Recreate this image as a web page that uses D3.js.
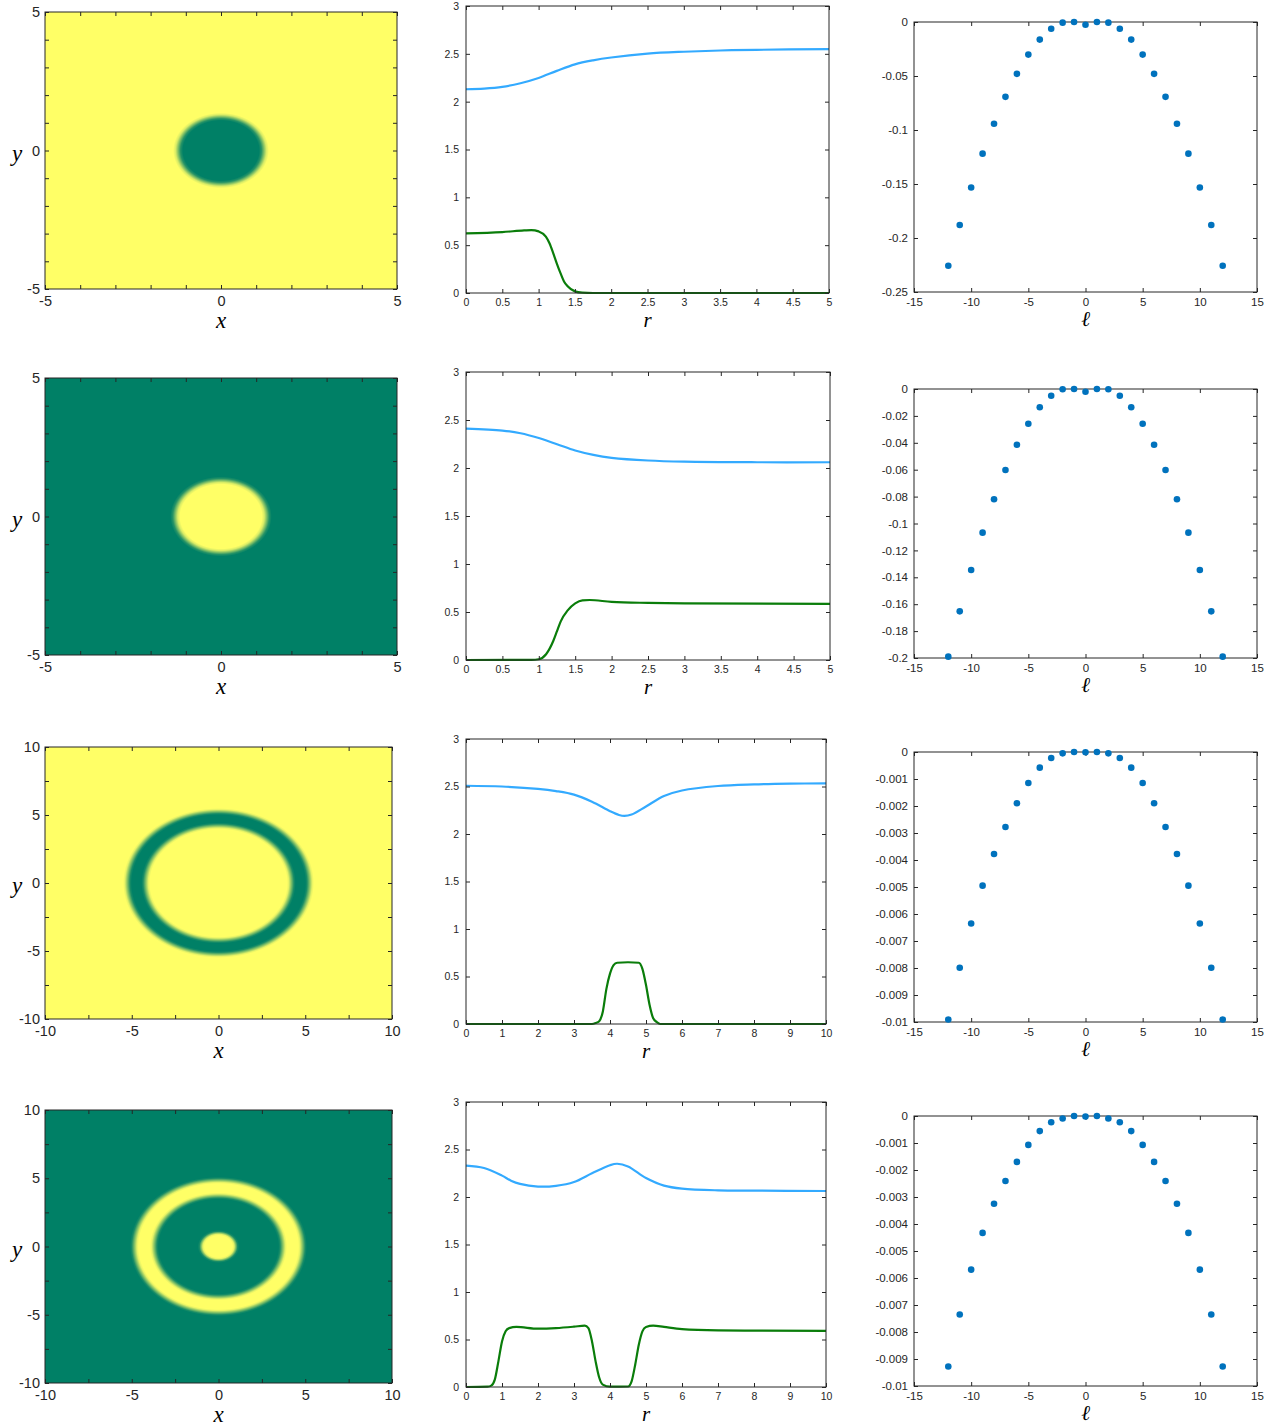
<!DOCTYPE html>
<html>
<head>
<meta charset="utf-8">
<script src="https://cdn.jsdelivr.net/npm/d3@7"></script>
<style>
  body { margin: 0; background: #fff; }
</style>
</head>
<body>
<script>
// ---- column 1: radial phase profile (0 = yellow, 1 = teal)
const heatR1 = [0, 1.08, 1.15, 1.22, 1.29, 1.36, 15];
const heatV1 = [1, 1, 0.85, 0.5, 0.15, 0, 0];
const heatR2 = [0, 1.16, 1.23, 1.3, 1.37, 1.44, 15];
const heatV2 = [0, 0, 0.15, 0.5, 0.85, 1, 1];
const heatR3 = [0, 3.95, 4.05, 4.2, 4.35, 4.45, 5.0, 5.1, 5.25, 5.4, 5.5, 15];
const heatV3 = [0, 0, 0.1, 0.5, 0.9, 1, 1, 0.9, 0.5, 0.1, 0, 0];
const heatR4 = [0, 0.8, 0.9, 1.0, 1.1, 1.2, 3.45, 3.55, 3.7, 3.85, 3.95, 4.6, 4.7, 4.85, 5.0, 5.1, 15];
const heatV4 = [0, 0, 0.1, 0.5, 0.9, 1, 1, 0.9, 0.5, 0.1, 0, 0, 0.1, 0.5, 0.9, 1, 1];

const heatTicksA = [-5, -4, -3, -2, -1, 0, 1, 2, 3, 4, 5];
const heatLabelsA = [-5, 0, 5];
const heatTicksB = [-10, -7.5, -5, -2.5, 0, 2.5, 5, 7.5, 10];
const heatLabelsB = [-10, -5, 0, 5, 10];

// ---- column 2: radial profiles (blue and green curves)
const rBlue1 = [0, 0.25, 0.5, 0.75, 1, 1.25, 1.5, 1.75, 2, 2.5, 3, 3.5, 4, 5];
const blue1 = [2.13, 2.137, 2.155, 2.193, 2.248, 2.322, 2.39, 2.432, 2.462, 2.502, 2.522, 2.535, 2.542, 2.55];
const rGreen1 = [0, 0.5, 0.8, 0.9, 1.0, 1.1, 1.15, 1.2, 1.25, 1.3, 1.35, 1.4, 1.5, 1.6, 1.75, 5];
const green1 = [0.623, 0.637, 0.654, 0.658, 0.644, 0.59, 0.52, 0.42, 0.31, 0.21, 0.12, 0.07, 0.017, 0.003, 0, 0];

const rBlue2 = [0, 0.5, 0.75, 1, 1.25, 1.5, 1.75, 2, 2.5, 3, 4, 5];
const blue2 = [2.41, 2.39, 2.362, 2.312, 2.248, 2.182, 2.136, 2.106, 2.078, 2.066, 2.06, 2.06];
const rGreen2 = [0, 0.9, 1.0, 1.1, 1.2, 1.25, 1.3, 1.4, 1.5, 1.6, 1.7, 2, 2.5, 3, 5];
const green2 = [0, 0.001, 0.008, 0.06, 0.2, 0.3, 0.4, 0.52, 0.59, 0.622, 0.625, 0.605, 0.595, 0.59, 0.585];

const rBlue3 = [0, 1, 2, 2.5, 3, 3.5, 4, 4.25, 4.4, 4.6, 5, 5.5, 6, 7, 8, 9, 10];
const blue3 = [2.508, 2.50, 2.475, 2.452, 2.415, 2.34, 2.24, 2.2, 2.19, 2.205, 2.29, 2.4, 2.458, 2.505, 2.522, 2.53, 2.533];
const rGreen3 = [0, 3.5, 3.6, 3.7, 3.8, 3.9, 4.0, 4.1, 4.2, 4.5, 4.8, 4.9, 5.0, 5.1, 5.2, 5.3, 5.4, 10];
const green3 = [0, 0, 0.01, 0.03, 0.13, 0.37, 0.53, 0.62, 0.645, 0.65, 0.645, 0.58, 0.41, 0.2, 0.06, 0.02, 0, 0];

const rBlue4 = [0, 0.5, 1, 1.25, 1.5, 2, 2.5, 3, 3.5, 4, 4.2, 4.5, 5, 5.5, 6, 7, 8, 10];
const blue4 = [2.33, 2.305, 2.225, 2.172, 2.138, 2.11, 2.118, 2.158, 2.25, 2.335, 2.35, 2.322, 2.2, 2.12, 2.088, 2.07, 2.067, 2.063];
const rGreen4 = [0, 0.6, 0.7, 0.8, 0.9, 1.0, 1.1, 1.2, 1.4, 2, 2.5, 3, 3.3, 3.4, 3.5, 3.6, 3.7, 3.8, 4.0, 4.5, 4.6, 4.7, 4.8, 4.9, 5.0, 5.2, 5.5, 6, 7, 8, 10];
const green4 = [0, 0.003, 0.014, 0.077, 0.27, 0.48, 0.586, 0.62, 0.632, 0.614, 0.62, 0.635, 0.646, 0.62, 0.48, 0.27, 0.1, 0.025, 0.003, 0.005, 0.06, 0.235, 0.445, 0.586, 0.632, 0.646, 0.632, 0.61, 0.596, 0.593, 0.59];

const profTicksY = [0, 0.5, 1, 1.5, 2, 2.5, 3];
const profTicksXA = [0, 0.5, 1, 1.5, 2, 2.5, 3, 3.5, 4, 4.5, 5];
const profTicksXB = [0, 1, 2, 3, 4, 5, 6, 7, 8, 9, 10];

// ---- column 3: eigenvalues per mode number ell
const ell = [-12, -11, -10, -9, -8, -7, -6, -5, -4, -3, -2, -1, 0, 1, 2, 3, 4, 5, 6, 7, 8, 9, 10, 11, 12];
const eig1 = [-0.2257, -0.188, -0.1533, -0.1219, -0.0942, -0.0693, -0.048, -0.0302, -0.0163, -0.0062, -0.0006, 0, -0.0025, 0, -0.0006, -0.0062, -0.0163, -0.0302, -0.048, -0.0693, -0.0942, -0.1219, -0.1533, -0.188, -0.2257];
const eig2 = [-0.199, -0.1653, -0.1346, -0.1068, -0.082, -0.0602, -0.0414, -0.0258, -0.0136, -0.005, -0.0002, 0, -0.002, 0, -0.0002, -0.005, -0.0136, -0.0258, -0.0414, -0.0602, -0.082, -0.1068, -0.1346, -0.1653, -0.199];
const eig3 = [-0.00991, -0.00799, -0.00635, -0.00495, -0.00378, -0.00278, -0.0019, -0.00115, -0.00058, -0.00022, -0.00005, 0, -0.00001, 0, -0.00005, -0.00022, -0.00058, -0.00115, -0.0019, -0.00278, -0.00378, -0.00495, -0.00635, -0.00799, -0.00991];
const eig4 = [-0.00928, -0.00735, -0.00569, -0.00433, -0.00325, -0.00241, -0.0017, -0.00107, -0.00056, -0.00023, -0.00009, 0, -0.00002, 0, -0.00009, -0.00023, -0.00056, -0.00107, -0.0017, -0.00241, -0.00325, -0.00433, -0.00569, -0.00735, -0.00928];

const specTicksX = [-15, -10, -5, 0, 5, 10, 15];
const specTicksY1 = [0, -0.05, -0.1, -0.15, -0.2, -0.25];
const specTicksY2 = [0, -0.02, -0.04, -0.06, -0.08, -0.1, -0.12, -0.14, -0.16, -0.18, -0.2];
const specTicksY3 = [0, -0.001, -0.002, -0.003, -0.004, -0.005, -0.006, -0.007, -0.008, -0.009, -0.01];

const ink = "#262626";
const yellow = "#ffff66", teal = "#008066";
const blueLine = "#33aaff", greenLine = "#0a7d0a", dotColor = "#0072bd";

var svg = d3.select("body").append("svg")
    .attr("width", 1278)
    .attr("height", 1427)
    .style("font-family", "'Liberation Sans', Arial, Helvetica, sans-serif");

// boxed axes, ticks pointing inward on all four sides
function drawAxes(x, y, c) {
    var g = svg.append("g").attr("color", ink);
    var [x0, x1] = x.range(), [yb, yt] = y.range();
    var fmt = labels => d => (labels.includes(d) ? String(d) : "");
    g.append("g").attr("transform", "translate(0," + yb + ")")
        .call(d3.axisBottom(x).tickValues(c.xTicks).tickSizeInner(-4).tickSizeOuter(0)
            .tickPadding(c.xPad).tickFormat(fmt(c.xLabels || c.xTicks)));
    g.append("g").attr("transform", "translate(0," + yt + ")")
        .call(d3.axisTop(x).tickValues(c.xTicks).tickSizeInner(-4).tickSizeOuter(0).tickFormat(""));
    g.append("g").attr("transform", "translate(" + x0 + ",0)")
        .call(d3.axisLeft(y).tickValues(c.yTicks).tickSizeInner(-4).tickSizeOuter(0)
            .tickPadding(c.yPad).tickFormat(fmt(c.yLabels || c.yTicks)));
    g.append("g").attr("transform", "translate(" + x1 + ",0)")
        .call(d3.axisRight(y).tickValues(c.yTicks).tickSizeInner(-4).tickSizeOuter(0).tickFormat(""));
    g.selectAll(".domain").remove();
    g.selectAll("text").attr("font-size", c.fontSize).attr("font-family", null).attr("fill", ink);
    g.append("rect")
        .attr("x", x0).attr("y", yt)
        .attr("width", x1 - x0).attr("height", yb - yt)
        .attr("fill", "none").attr("stroke", ink).attr("stroke-width", 1);
    // axis labels (italic serif, LaTeX-like)
    svg.append("text")
        .attr("x", (x0 + x1) / 2).attr("y", yb + c.xLabOff)
        .attr("text-anchor", "middle")
        .attr("font-family", "'Liberation Serif', 'DejaVu Serif', serif")
        .attr("font-style", "italic").attr("font-size", c.labSize).attr("fill", "#000")
        .text(c.xName);
    if (c.yName) {
        svg.append("text")
            .attr("x", 17).attr("y", (yt + yb) / 2 + 10)
            .attr("text-anchor", "middle")
            .attr("font-family", "'Liberation Serif', 'DejaVu Serif', serif")
            .attr("font-style", "italic").attr("font-size", c.labSize).attr("fill", "#000")
            .text(c.yName);
    }
}

// column 1 - density plot of the pattern, built from the radial profile
function heatPanel(box, lim, ticks, labels, rr, vv) {
    var x = d3.scaleLinear().domain([-lim, lim]).range([box.x0, box.x1]);
    var y = d3.scaleLinear().domain([-lim, lim]).range([box.y1, box.y0]);
    var prof = d3.scaleLinear().domain(rr).range(vv).clamp(true);
    var color = d3.scaleLinear().domain([0, 1]).range([yellow, teal]);

    var w = Math.round(box.x1 - box.x0), h = Math.round(box.y1 - box.y0);
    var canvas = document.createElement("canvas");
    canvas.width = w; canvas.height = h;
    var ctx = canvas.getContext("2d");
    var img = ctx.createImageData(w, h);
    for (let j = 0; j < h; ++j) {
        for (let i = 0; i < w; ++i) {
            let xv = x.invert(box.x0 + i + 0.5), yv = y.invert(box.y0 + j + 0.5);
            let c = d3.rgb(color(prof(Math.hypot(xv, yv))));
            let k = 4 * (j * w + i);
            img.data[k] = c.r; img.data[k + 1] = c.g; img.data[k + 2] = c.b; img.data[k + 3] = 255;
        }
    }
    ctx.putImageData(img, 0, 0);
    svg.append("image")
        .attr("href", canvas.toDataURL())
        .attr("x", box.x0).attr("y", box.y0)
        .attr("width", box.x1 - box.x0).attr("height", box.y1 - box.y0)
        .attr("preserveAspectRatio", "none");

    drawAxes(x, y, {
        xTicks: ticks, xLabels: labels, yTicks: ticks, yLabels: labels,
        xPad: 7, yPad: 5, fontSize: 14.5, labSize: 23, xLabOff: 39,
        xName: "x", yName: "y"
    });
}

// column 2 - radial profiles
function profilePanel(box, rMax, xTicks, rb, vb, rg, vg) {
    var x = d3.scaleLinear().domain([0, rMax]).range([box.x0, box.x1]);
    var y = d3.scaleLinear().domain([0, 3]).range([box.y1, box.y0]);
    var blueLinePath = d3.line().x(d => x(d[0])).y(d => y(d[1])).curve(d3.curveCatmullRom.alpha(0.5));
    var greenLinePath = d3.line().x(d => x(d[0])).y(d => y(d[1])).curve(d3.curveMonotoneX);
    svg.append("path").datum(d3.zip(rb, vb))
        .attr("d", blueLinePath).attr("fill", "none").attr("stroke", blueLine).attr("stroke-width", 2.2);
    svg.append("path").datum(d3.zip(rg, vg))
        .attr("d", greenLinePath).attr("fill", "none").attr("stroke", greenLine).attr("stroke-width", 2.2);
    drawAxes(x, y, {
        xTicks: xTicks, yTicks: profTicksY,
        xPad: 6, yPad: 7, fontSize: 10.5, labSize: 21, xLabOff: 34,
        xName: "r"
    });
}

// column 3 - spectrum vs mode number
function spectrumPanel(box, yMin, yTicks, vals) {
    var x = d3.scaleLinear().domain([-15, 15]).range([box.x0, box.x1]);
    var y = d3.scaleLinear().domain([yMin, 0]).range([box.y1, box.y0]);
    drawAxes(x, y, {
        xTicks: specTicksX, yTicks: yTicks,
        xPad: 6, yPad: 6, fontSize: 11.5, labSize: 21, xLabOff: 34,
        xName: "\u2113"
    });
    svg.append("g").selectAll("circle")
        .data(d3.zip(ell, vals))
        .enter().append("circle")
        .attr("cx", d => x(d[0]))
        .attr("cy", d => y(d[1]))
        .attr("r", 3.3)
        .attr("fill", dotColor);
}

heatPanel({x0: 45, x1: 397, y0: 12, y1: 289}, 5, heatTicksA, heatLabelsA, heatR1, heatV1);
heatPanel({x0: 45, x1: 397, y0: 378, y1: 655}, 5, heatTicksA, heatLabelsA, heatR2, heatV2);
heatPanel({x0: 45, x1: 392, y0: 747, y1: 1019}, 10, heatTicksB, heatLabelsB, heatR3, heatV3);
heatPanel({x0: 45, x1: 392, y0: 1110, y1: 1383}, 10, heatTicksB, heatLabelsB, heatR4, heatV4);

profilePanel({x0: 466, x1: 829, y0: 6, y1: 293}, 5, profTicksXA, rBlue1, blue1, rGreen1, green1);
profilePanel({x0: 466, x1: 830, y0: 372, y1: 660}, 5, profTicksXA, rBlue2, blue2, rGreen2, green2);
profilePanel({x0: 466, x1: 826, y0: 739, y1: 1024}, 10, profTicksXB, rBlue3, blue3, rGreen3, green3);
profilePanel({x0: 466, x1: 826, y0: 1102, y1: 1387}, 10, profTicksXB, rBlue4, blue4, rGreen4, green4);

spectrumPanel({x0: 914, x1: 1257, y0: 22, y1: 292}, -0.25, specTicksY1, eig1);
spectrumPanel({x0: 914, x1: 1257, y0: 389, y1: 658}, -0.2, specTicksY2, eig2);
spectrumPanel({x0: 914, x1: 1257, y0: 752, y1: 1022}, -0.01, specTicksY3, eig3);
spectrumPanel({x0: 914, x1: 1257, y0: 1116, y1: 1386}, -0.01, specTicksY3, eig4);
</script>
</body>
</html>
